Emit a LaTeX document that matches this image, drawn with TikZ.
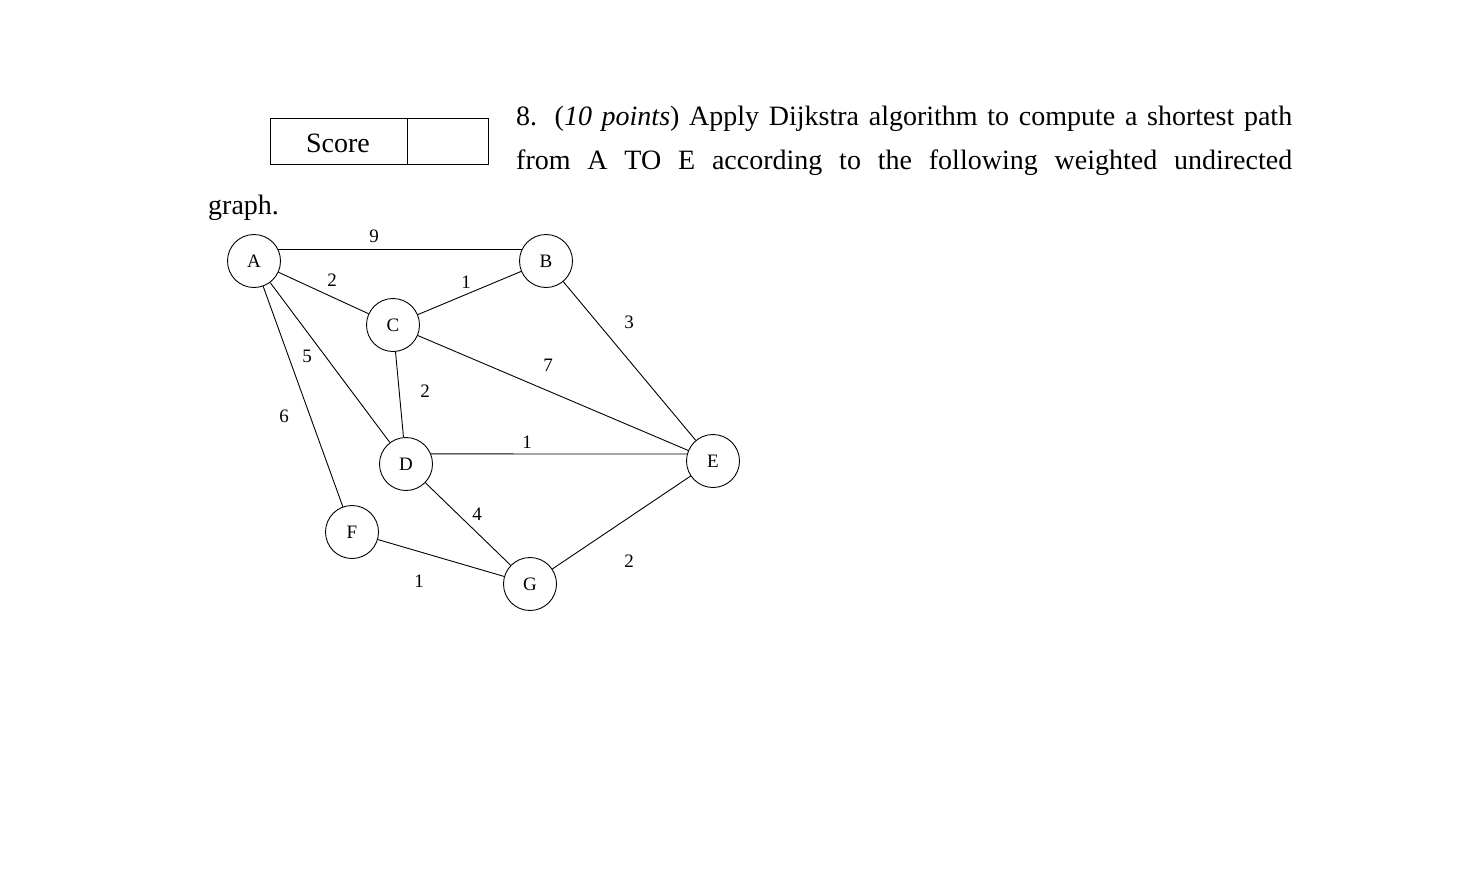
\documentclass[tikz,border=0pt]{standalone}
\usepackage{fontspec}
\setmainfont{Liberation Serif}
\begin{document}
\begin{tikzpicture}[x=1pt,y=-1pt,
  vert/.style={circle,draw,line width=0.9pt,minimum size=53pt,inner sep=0pt,font=\fontsize{19}{20}\selectfont},
  wt/.style={font=\fontsize{19}{20}\selectfont,inner sep=1pt},
  txt/.style={font=\fontsize{28}{30}\selectfont,inner sep=0pt,anchor=base west},
  edge/.style={line width=0.9pt}]
\useasboundingbox (0,0) rectangle (1464,870);
\draw[line width=0.9pt] (270,118) rectangle (488,164) (407,118) -- (407,164);
\node[txt,anchor=center] (score) at (338,143) {Score};
\node[txt] (l1) at (516,125) {\makebox[776pt][s]{8. (\textit{10 points}) Apply Dijkstra algorithm to compute a shortest path}};
\node[txt] (l2) at (516,169) {\makebox[776pt][s]{from A TO E according to the following weighted undirected}};
\node[txt] (l3) at (208,214) {graph.};
\node[vert] (A) at (254,261) {A};
\node[vert] (B) at (546,261) {B};
\node[vert] (C) at (393,325) {C};
\node[vert] (D) at (406,464) {D};
\node[vert] (E) at (713,461) {E};
\node[vert] (F) at (352,532) {F};
\node[vert] (G) at (530,584) {G};
\draw[edge] (A.25) -- (B.155);
\draw[edge] (A) -- (C);
\draw[edge] (C) -- (B);
\draw[edge] (A) -- (D);
\draw[edge] (A) -- (F);
\draw[edge] (C) -- (D);
\draw[edge] (C) -- (E);
\draw[edge] (B) -- (E);
\draw[edge] (D.22) -- (E.165);
\draw[edge] (D) -- (G);
\draw[edge] (F) -- (G);
\draw[edge] (G) -- (E);
\node[wt] (w1) at (374,236) {9};
\node[wt] (w2) at (332,280) {2};
\node[wt] (w3) at (466,282) {1};
\node[wt] (w4) at (629,322) {3};
\node[wt] (w5) at (307,356) {5};
\node[wt] (w6) at (548,365) {7};
\node[wt] (w7) at (425,391) {2};
\node[wt] (w8) at (284,416) {6};
\node[wt] (w9) at (527,442) {1};
\node[wt] (w10) at (477,514) {4};
\node[wt] (w11) at (629,561) {2};
\node[wt] (w12) at (419,581) {1};
\end{tikzpicture}
\end{document}
